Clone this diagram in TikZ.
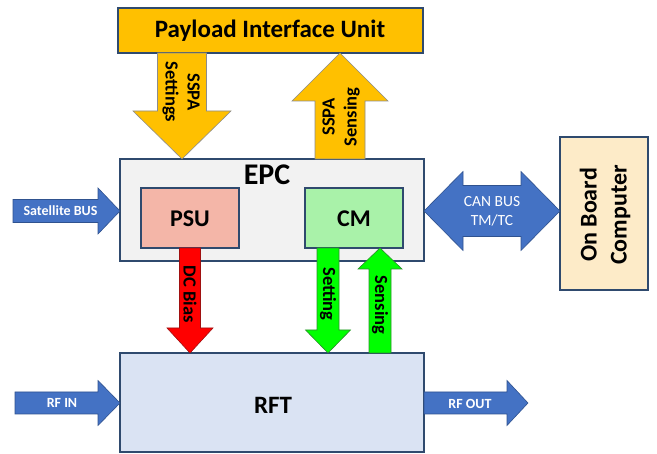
\documentclass[tikz,border=0pt]{standalone}
\usepackage{fontspec}
\setmainfont{Carlito}
\usetikzlibrary{calc}

\definecolor{edge}{HTML}{2F4A6E}
\definecolor{piufill}{HTML}{FFC000}
\definecolor{epcfill}{HTML}{F2F2F2}
\definecolor{psufill}{HTML}{F4B6A8}
\definecolor{cmfill}{HTML}{A9F2A9}
\definecolor{obcfill}{HTML}{FDEBC8}
\definecolor{rftfill}{HTML}{DAE3F3}
\definecolor{busblue}{HTML}{4472C4}
\definecolor{busedge}{HTML}{2F528F}
\definecolor{ambedge}{HTML}{8C8C8C}
\definecolor{redfill}{HTML}{FF0000}
\definecolor{rededge}{HTML}{A01010}
\definecolor{grnfill}{HTML}{00FF00}
\definecolor{grnedge}{HTML}{2E8B2E}

% block arrow: style, tail, tip, shaft half width, head half width, head length
\newcommand\singlearrow[6]{%
  \coordinate (ba-c) at ($(#3)!#6!(#2)$);
  \path[#1] ($(#2)!#4!90:(#3)$) -- ($(ba-c)!#4!90:(#3)$) -- ($(ba-c)!#5!90:(#3)$)
    -- (#3) -- ($(ba-c)!#5!-90:(#3)$) -- ($(ba-c)!#4!-90:(#3)$)
    -- ($(#2)!#4!-90:(#3)$) -- cycle;}

% double-headed block arrow: style, tip A, tip B, shaft half width, head half width, head length
\newcommand\doublearrow[6]{%
  \coordinate (da-a) at ($(#2)!#6!(#3)$);
  \coordinate (da-b) at ($(#3)!#6!(#2)$);
  \path[#1] (#2) -- ($(da-a)!#5!90:(#3)$) -- ($(da-a)!#4!90:(#3)$)
    -- ($(da-b)!#4!-90:(#2)$) -- ($(da-b)!#5!-90:(#2)$) -- (#3)
    -- ($(da-b)!#5!90:(#2)$) -- ($(da-b)!#4!90:(#2)$)
    -- ($(da-a)!#4!-90:(#3)$) -- ($(da-a)!#5!-90:(#3)$) -- cycle;}

\tikzset{
  box/.style={draw=edge, line width=1.3pt, rectangle, outer sep=0pt, inner sep=0pt},
  boxtext/.style={font=\bfseries\fontsize{24}{30}\selectfont, align=center},
  amber/.style={fill=piufill, draw=ambedge, line width=0.6pt},
  bluearr/.style={fill=busblue, draw=busedge, line width=0.6pt},
  redarr/.style={fill=redfill, draw=rededge, line width=0.6pt},
  grnarr/.style={fill=grnfill, draw=grnedge, line width=0.6pt},
  arrtext/.style={font=\bfseries\fontsize{18.5}{22}\selectfont, align=center, inner sep=0pt},
  whitetext/.style={text=white, inner sep=0pt, align=center}
}

\begin{document}
\begin{tikzpicture}[x=1pt, y=-1pt]
\useasboundingbox (0,0) rectangle (657,454);

% blocks
\node[box, fill=piufill, minimum width=305pt, minimum height=45pt] (piu) at (270.5,30.5) {};
\node[boxtext, font=\bfseries\fontsize{25}{30}\selectfont] (piutext) at (270,31) {Payload Interface Unit};

\node[box, fill=epcfill, minimum width=304pt, minimum height=102pt] (epc) at (272,210) {};
\node[boxtext, font=\bfseries\fontsize{30}{34}\selectfont] (epctext) at (267,175) {EPC};

\node[box, fill=psufill, minimum width=98pt, minimum height=60pt] (psu) at (190,218) {};
\node[boxtext] (psutext) at (190,219) {PSU};

\node[box, fill=cmfill, minimum width=98pt, minimum height=60pt] (cm) at (354,218) {};
\node[boxtext] (cmtext) at (354,219) {CM};

\node[box, fill=obcfill, minimum width=88pt, minimum height=153pt] (obc) at (604,213.5) {};
\node[boxtext, rotate=90] (obctext) at (605,215) {On Board\\Computer};

\node[box, fill=rftfill, minimum width=304pt, minimum height=99pt] (rft) at (272,402.5) {};
\node[boxtext, font=\bfseries\fontsize{25}{30}\selectfont] (rfttext) at (273,405) {RFT};

% end points of the block arrows
\coordinate (sset-a) at ($(piu.south west)+(64,0)$);
\coordinate (sset-b) at ($(epc.north west)+(62,0)$);
\coordinate (ssen-a) at ($(epc.north west)+(220,0)$);
\coordinate (ssen-b) at ($(piu.south west)+(222,0)$);
\coordinate (sat-a) at (13,211);
\coordinate (sat-b) at ($(epc.west)+(0,1)$);
\coordinate (dc-a) at (psu.south);
\coordinate (dc-b) at (psu.south |- rft.north);
\coordinate (set-a) at ($(cm.south west)+(23,0)$);
\coordinate (set-b) at (set-a |- rft.north);
\coordinate (sens-b) at ($(cm.south west)+(75,0)$);
\coordinate (sens-a) at (sens-b |- rft.north);
\coordinate (can-a) at ($(epc.east)+(0,1)$);
\coordinate (can-b) at (can-a -| obc.west);
\coordinate (rfin-a) at (15,403);
\coordinate (rfin-b) at (rft.west |- rfin-a);
\coordinate (rfout-a) at (rft.east |- rfin-a);
\coordinate (rfout-b) at (528,403);

% block arrows
\singlearrow{amber}{sset-a}{sset-b}{24.5pt}{49pt}{48pt}
\singlearrow{amber}{ssen-a}{ssen-b}{25pt}{48pt}{48pt}
\singlearrow{bluearr}{sat-a}{sat-b}{11.5pt}{23pt}{22pt}
\singlearrow{redarr}{dc-a}{dc-b}{10.5pt}{23pt}{25pt}
\singlearrow{grnarr}{set-a}{set-b}{11pt}{22.5pt}{23pt}
\singlearrow{grnarr}{sens-a}{sens-b}{11pt}{22pt}{21pt}
\doublearrow{bluearr}{can-a}{can-b}{25.5pt}{39.5pt}{39pt}
\singlearrow{bluearr}{rfin-a}{rfin-b}{11pt}{22.5pt}{22pt}
\singlearrow{bluearr}{rfout-a}{rfout-b}{11pt}{22.5pt}{21pt}

% arrow labels
\node[arrtext, rotate=-90] (ssettext) at (181,92) {SSPA\\Settings};
\node[arrtext, rotate=90] (ssentext) at (341,117) {SSPA\\Sensing};
\node[arrtext, rotate=-90] (dctext) at (190,294.5) {DC Bias};
\node[arrtext, rotate=-90] (settext) at (328,294) {Setting};
\node[arrtext, rotate=-90] (senstext) at (380,305) {Sensing};
\node[whitetext, font=\bfseries\fontsize{14}{16}\selectfont] (sattext) at (60.5,211) {Satellite BUS};
\node[whitetext, font=\fontsize{15.5}{19}\selectfont] (cantext) at (492,211.5) {CAN BUS\\TM/TC};
\node[whitetext, font=\bfseries\fontsize{14}{16}\selectfont] (rfintext) at (62,403) {RF IN};
\node[whitetext, font=\bfseries\fontsize{14}{16}\selectfont] (rfouttext) at (470,404) {RF OUT};
\end{tikzpicture}
\end{document}
